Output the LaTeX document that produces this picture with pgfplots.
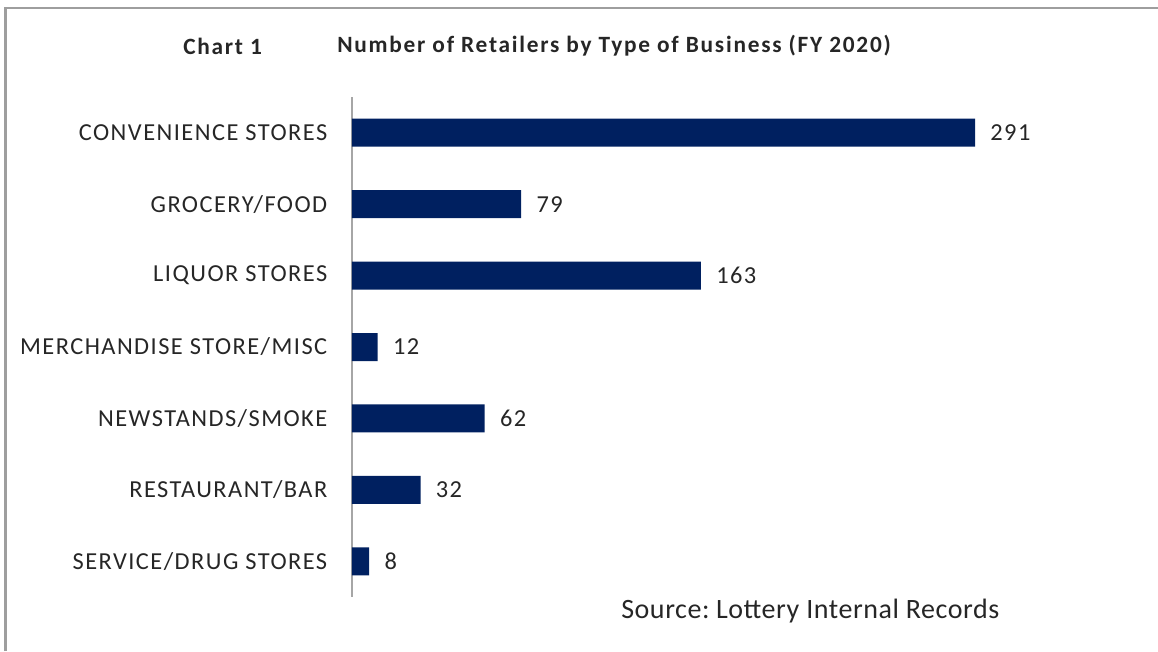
\documentclass[border=0pt]{standalone}
\usepackage{pgfplots}
\pgfplotsset{compat=1.18}
\usepackage{fontspec}
\setmainfont{Carlito}
\newfontfamily\lblfont[LetterSpace=6]{Carlito}
\newfontfamily\ttlfont[LetterSpace=7.5]{Carlito}
\newfontfamily\srcfont[LetterSpace=2]{Carlito}
\definecolor{barnavy}{HTML}{002060}
\begin{document}
\begin{tikzpicture}
\begin{scope}[x=0.75pt,y=-0.75pt]
\path[use as bounding box] (0,0) rectangle (1158,651);
\draw[color=black!38, line width=1.6pt] (5.5,651) -- (5.5,8) -- (1158,8);
\node[font=\ttlfont\fontsize{17.5}{20}\selectfont\bfseries, anchor=west, inner sep=0pt, text=black!85] at (183,46) {Chart 1};
\node[font=\ttlfont\fontsize{17.5}{20}\selectfont\bfseries, anchor=west, inner sep=0pt, text=black!85] at (337,46) {Number of Retailers by Type of Business (FY 2020)};
\node[font=\srcfont\fontsize{21}{25}\selectfont, anchor=west, inner sep=0pt, text=black!85] at (621,611) {Source:\hspace{-2pt} Lottery Internal Records};
\end{scope}
\begin{axis}[
  at={(264pt,-72.75pt)}, anchor=north west,
  width=467.25pt, height=375pt, scale only axis,
  xbar, bar width=21pt,
  xmin=0, xmax=291, ymin=-0.5, ymax=6.5, y dir=reverse,
  axis x line=none, axis y line*=left,
  y axis line style={draw=black!35, line width=0.9pt, -},
  ytick={0,1,2,3,4,5,6},
  yticklabels={CONVENIENCE STORES, GROCERY/FOOD, LIQUOR STORES, MERCHANDISE STORE/MISC, NEWSTANDS/SMOKE, RESTAURANT/BAR, SERVICE/DRUG STORES},
  major tick length=0pt,
  yticklabel style={font=\lblfont\fontsize{18.3}{21}\selectfont, text=black!85, xshift=-15pt},
  nodes near coords,
  nodes near coords style={font=\lblfont\fontsize{18.3}{21}\selectfont, text=black!85, anchor=west, xshift=8pt},
  /pgf/number format/assume math mode=true,
  clip=false,
]
\addplot[fill=barnavy, draw=none] coordinates {
 (291,0) (79,1) (163,2) (12,3) (62,4) (32,5) (8,6)
};
\end{axis}
\end{tikzpicture}
\end{document}
